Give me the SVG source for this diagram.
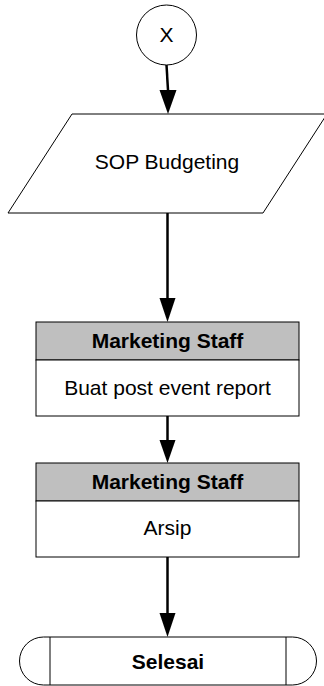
<svg xmlns="http://www.w3.org/2000/svg" width="324" height="686" viewBox="0 0 324 686">
<style>
text{font-family:"Liberation Sans",Arial,sans-serif;font-size:21px;fill:#000;text-anchor:middle}
.b{font-weight:bold}
.shape{fill:#fff;stroke:#000;stroke-width:1}
.hdr{fill:#bfbfbf;stroke:#000;stroke-width:1}
.conn{stroke:#000;stroke-width:2.5;fill:none}
.head{fill:#000}
</style>
<g id="connectors">
<line class="conn" x1="166.5" y1="65" x2="168" y2="90"/>
<path class="head" d="M159.5,90 L176.5,90 L168,114 Z"/>
<line class="conn" x1="167.5" y1="213" x2="167.5" y2="298"/>
<path class="head" d="M159.5,298 L175.5,298 L167.5,322 Z"/>
<line class="conn" x1="167.5" y1="416" x2="167.5" y2="440"/>
<path class="head" d="M159.5,440 L175.5,440 L167.5,463 Z"/>
<line class="conn" x1="167.5" y1="557" x2="167.5" y2="613"/>
<path class="head" d="M159.5,613 L175.5,613 L167.5,637 Z"/>
</g>
<g id="start">
<circle class="shape" cx="166.5" cy="35" r="30"/>
<text x="166.5" y="42" font-size="20">X</text>
</g>
<g id="sop">
<path class="shape" d="M72,114 L327,114 L263,213 L8,213 Z"/>
<text x="167" y="169">SOP Budgeting</text>
</g>
<g id="task1">
<rect class="hdr" x="36" y="322" width="263" height="38"/>
<rect class="shape" x="36" y="360" width="263" height="56"/>
<text class="b" x="167.5" y="348">Marketing Staff</text>
<text x="167.5" y="395">Buat post event report</text>
</g>
<g id="task2">
<rect class="hdr" x="36" y="463" width="263" height="38"/>
<rect class="shape" x="36" y="501" width="263" height="56"/>
<text class="b" x="167.5" y="489">Marketing Staff</text>
<text x="167.5" y="535">Arsip</text>
</g>
<g id="end">
<path class="shape" d="M43.5,637 L292.5,637 A24,24 0 0 1 292.5,685 L43.5,685 A24,24 0 0 1 43.5,637 Z"/>
<line x1="50" y1="637" x2="50" y2="685" stroke="#000" stroke-width="1"/>
<line x1="286" y1="637" x2="286" y2="685" stroke="#000" stroke-width="1"/>
<text class="b" x="168" y="669" font-size="23">Selesai</text>
</g>
</svg>
